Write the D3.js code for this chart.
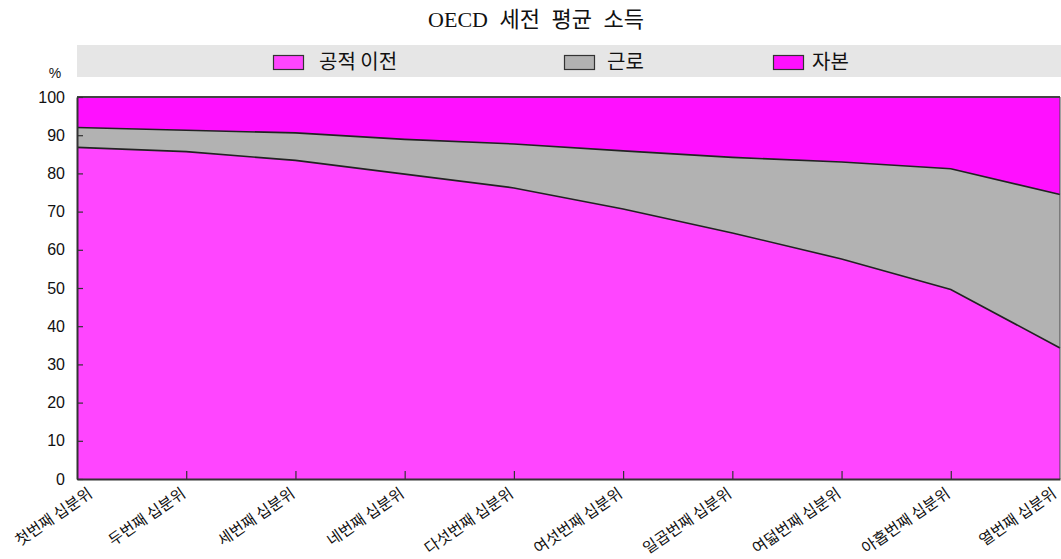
<!DOCTYPE html>
<html><head><meta charset="utf-8">
<script src="https://cdn.jsdelivr.net/npm/d3@7"></script>
<style>
body{margin:0;background:#fff;}
svg{display:block;}
</style></head>
<body>
<svg id="chart" width="1061" height="559"></svg>
<script>
const title = "OECD 세전 평균 소득";
const categories = ["첫번째 십분위","두번째 십분위","세번째 십분위","네번째 십분위","다섯번째 십분위","여섯번째 십분위","일곱번째 십분위","여덟번째 십분위","아홉번째 십분위","열번째 십분위"];
const seriesNames = ["공적 이전","근로","자본"];
const publicTransfer = [86.8, 85.7, 83.4, 79.8, 76.2, 70.7, 64.4, 57.6, 49.6, 34.3];
const labour = [5.2, 5.6, 7.2, 9.1, 11.5, 15.2, 19.8, 25.4, 31.6, 40.2];
const capital = [8.0, 8.7, 9.4, 11.1, 12.3, 14.1, 15.8, 17.0, 18.8, 25.5];
const yTicks = [0,10,20,30,40,50,60,70,80,90,100];
const colors = ["#ff45ff","#b2b2b2","#ff10ff"];

const svg = d3.select("#chart");
const W = 1061, H = 559;
const m = {left:77, right:1, top:97, bottom:80};
const iw = W - m.left - m.right, ih = H - m.top - m.bottom;

const table = categories.map((c,i)=>({cat:c, [seriesNames[0]]:publicTransfer[i], [seriesNames[1]]:labour[i], [seriesNames[2]]:capital[i]}));
const stack = d3.stack().keys(seriesNames)(table);

const x = d3.scalePoint().domain(categories).range([m.left, m.left+iw]).padding(0);
const y = d3.scaleLinear().domain([0,100]).range([m.top+ih, m.top]);

// title
svg.append("text").attr("x", 536).attr("y", 27).attr("text-anchor","middle")
  .attr("font-family","'Liberation Serif','Noto Sans CJK KR',serif").attr("font-size",22).attr("fill","#111")
  .attr("word-spacing",6)
  .text(title);

// legend band
svg.append("rect").attr("x", m.left).attr("y", 45).attr("width", W - m.left).attr("height", 32).attr("fill","#e6e6e6");
const legX = [273, 564, 773];
const legTextDx = [46, 43, 39];
seriesNames.forEach((s,i)=>{
  const g = svg.append("g").attr("transform",`translate(${legX[i]},55)`);
  g.append("rect").attr("x",0.5).attr("y",0.5).attr("width",30).attr("height",14).attr("fill",colors[i]).attr("stroke","#333").attr("stroke-width",1.2);
  g.append("text").attr("x",legTextDx[i]).attr("y",14).attr("font-family","'Noto Sans CJK KR',sans-serif").attr("font-size",20).attr("fill","#111").text(s);
});

// % label
svg.append("text").attr("x",55).attr("y",78).attr("text-anchor","middle")
  .attr("font-family","'Liberation Sans',Arial,sans-serif").attr("font-size",14).attr("fill","#111").text("%");

// areas
const area = d3.area().x(d=>x(d.data.cat)).y0(d=>y(d[0])).y1(d=>y(d[1]));
svg.append("g").selectAll("path").data(stack).join("path")
  .attr("d", area).attr("fill",(d,i)=>colors[i]).attr("stroke","none");

// boundary lines
const line = d3.line().x(d=>x(d.data.cat)).y(d=>y(d[1]));
svg.append("g").selectAll("path").data(stack.slice(0,2)).join("path")
  .attr("d", line).attr("fill","none").attr("stroke","#222").attr("stroke-width",1.6);

// frame top and right
svg.append("line").attr("x1",m.left).attr("x2",m.left+iw).attr("y1",m.top).attr("y2",m.top).attr("stroke","#444").attr("stroke-width",2);
svg.append("line").attr("x1",m.left+iw).attr("x2",m.left+iw).attr("y1",m.top).attr("y2",m.top+ih).attr("stroke","#444").attr("stroke-width",1);

// y axis
const yAxis = d3.axisLeft(y).tickValues(yTicks).tickSize(-6).tickPadding(12).tickSizeOuter(0);
const gy = svg.append("g").attr("transform",`translate(${m.left},0)`).call(yAxis);
gy.select(".domain").attr("stroke","#333").attr("stroke-width",2);
gy.selectAll(".tick line").attr("stroke","#333").attr("stroke-width",1.2);
gy.selectAll(".tick text").attr("font-family","'Liberation Sans',Arial,sans-serif").attr("font-size",16).attr("fill","#111");

// x axis
const xAxis = d3.axisBottom(x).tickSize(-8).tickPadding(0).tickSizeOuter(0);
const gx = svg.append("g").attr("transform",`translate(0,${m.top+ih})`).call(xAxis);
gx.select(".domain").attr("stroke","#333").attr("stroke-width",2);
gx.selectAll(".tick line").attr("stroke","#333").attr("stroke-width",1.2)
  .attr("display",(d,i)=> (i===0||i===categories.length-1) ? "none" : null);
gx.selectAll(".tick text")
  .attr("font-family","'Noto Sans CJK KR',sans-serif").attr("font-size",15.5).attr("fill","#111")
  .attr("text-anchor","end").attr("dy",null).attr("y",0)
  .attr("transform",(d,i)=> i===0 ? "translate(16,17) rotate(-34.5)" : (i===categories.length-1 ? "translate(-3,17) rotate(-34.5)" : "translate(0,17) rotate(-34.5)"));
</script>
</body></html>
